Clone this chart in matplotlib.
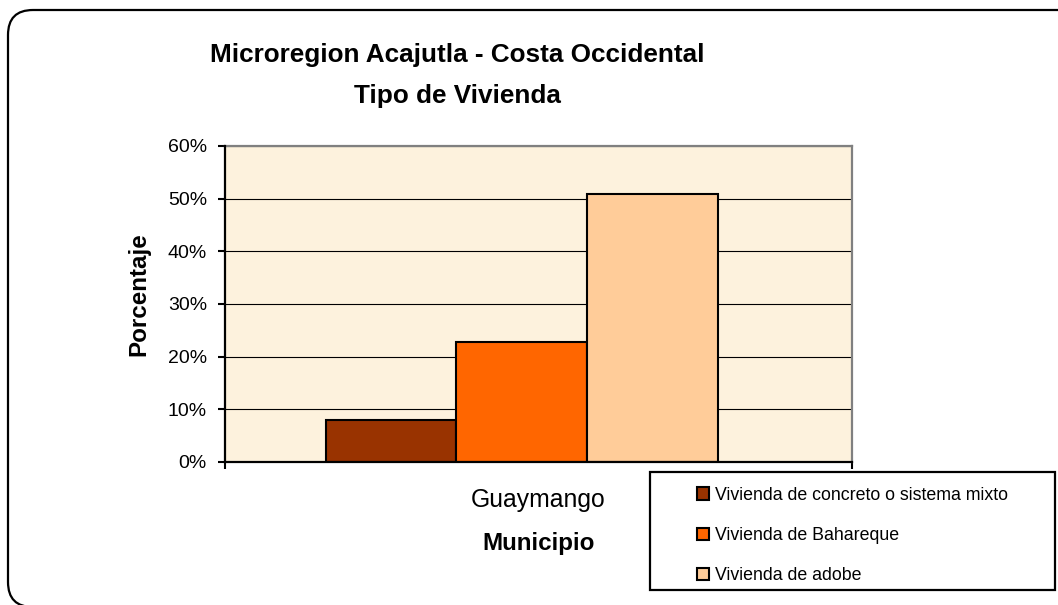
import matplotlib
matplotlib.use("Agg")
import matplotlib.pyplot as plt
from matplotlib.patches import FancyBboxPatch, Rectangle
from matplotlib.ticker import FuncFormatter

# ── data ───────────────────────────────────────────────────────────────────────
municipio = "Guaymango"
series    = ["Vivienda de concreto o sistema mixto",
             "Vivienda de Bahareque",
             "Vivienda de adobe"]
valores   = [0.08, 0.228, 0.509]
colores   = ["#993300", "#FF6600", "#FFCC99"]
y_ticks   = [0.0, 0.1, 0.2, 0.3, 0.4, 0.5, 0.6]

REG = ["Liberation Sans", "DejaVu Sans"]

W, H = 1058, 605
fig = plt.figure(figsize=(W / 100, H / 100), dpi=100)

# outer rounded frame (runs off the right and bottom edges), in inches
frame = FancyBboxPatch((0.08, -0.02), 10.9, 5.97,
                       boxstyle="round,pad=0,rounding_size=0.25",
                       transform=fig.dpi_scale_trans, fill=False,
                       ec="black", lw=1.6)
fig.patches.append(frame)

# ── titles ─────────────────────────────────────────────────────────────────────
fig.text(457 / W, 1 - 62 / H, "Microregion Acajutla - Costa Occidental",
         ha="center", va="baseline", fontsize=18.8, fontweight="bold", family=REG)
fig.text(457 / W, 1 - 102.5 / H, "Tipo de Vivienda",
         ha="center", va="baseline", fontsize=18.8, fontweight="bold", family=REG)

# ── axes ───────────────────────────────────────────────────────────────────────
ax = fig.add_axes([225 / W, 1 - 462 / H, 627 / W, 316 / H])
ax.set_facecolor("#FDF2DD")

offsets = [-1, 0, 1]
for off, v, c, lbl in zip(offsets, valores, colores, series):
    ax.bar(off, v, width=1.0, color=c, edgecolor="black", lw=1.5,
           label=lbl, zorder=3)

x0, x1 = -2.27, 2.525
ax.set_xlim(x0, x1)
ax.set_ylim(0, 0.6)

ax.set_yticks(y_ticks)
ax.yaxis.set_major_formatter(FuncFormatter(lambda v, _: f"{v * 100:.0f}%"))
ax.tick_params(axis="y", direction="out", length=5, width=1.5, pad=8,
               labelsize=14)
for t in ax.get_yticklabels():
    t.set_family(REG)

ax.set_xticks([(x0 + x1) / 2])
ax.set_xticklabels([municipio], fontsize=17.8, family=REG)
ax.tick_params(axis="x", which="major", length=0, pad=19)
ax.set_xticks([x0, x1], minor=True)
ax.tick_params(axis="x", which="minor", direction="out", length=5, width=1.5)

ax.grid(axis="y", color="black", lw=0.8, zorder=1)
for s in ["left", "bottom"]:
    ax.spines[s].set_color("black")
    ax.spines[s].set_linewidth(1.6)
    ax.spines[s].set_zorder(4)
for s in ["top", "right"]:
    ax.spines[s].set_color("#808080")
    ax.spines[s].set_linewidth(1.6)

ax.set_ylabel("Porcentaje", fontsize=17.4, fontweight="bold", family=REG)
ax.yaxis.set_label_coords(-0.119, 0.532)
ax.set_xlabel("Municipio", fontsize=17.4, fontweight="bold", family=REG,
              labelpad=14)

# ── legend ─────────────────────────────────────────────────────────────────────
lx0, ly0, lx1, ly1 = 650, 472, 1055, 590
fig.patches.append(Rectangle((lx0 / W, 1 - ly1 / H), (lx1 - lx0) / W,
                             (ly1 - ly0) / H, transform=fig.transFigure,
                             fill=True, fc="white", ec="black", lw=1.6,
                             zorder=5))
leg = fig.legend(loc="center",
                 bbox_to_anchor=((lx0 + lx1) / 2 / W,
                                 1 - ((ly0 + ly1) / 2 + 4.5) / H),
                 frameon=False, prop={"family": REG, "size": 12.8},
                 handlelength=0.7, handleheight=0.7, handletextpad=0.35,
                 labelspacing=1.3, borderpad=0)
leg.set_zorder(6)

fig.savefig("out.png", dpi=100)
